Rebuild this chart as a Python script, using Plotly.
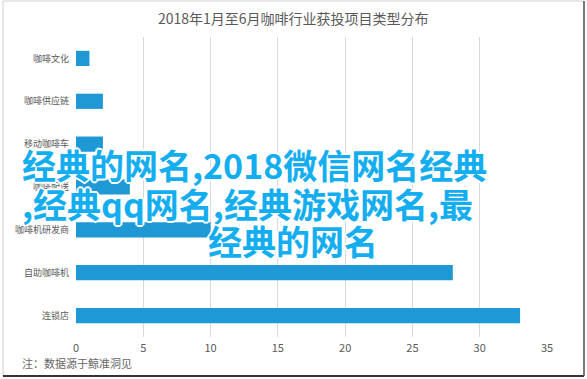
import plotly.graph_objects as go

title = "2018年1月至6月咖啡行业获投项目类型分布"
categories = ["咖啡文化", "咖啡供应链", "移动咖啡车", "咖啡配送", "咖啡机研发商", "自助咖啡机", "连锁店"]
values = [1, 2, 2, 4, 10, 28, 33]
x_ticks = [0, 5, 10, 15, 20, 25, 30, 35]
note = "注：数据源于鲸准洞见"
overlay_lines = ["经典的网名,2018微信网名经典", ",经典qq网名,经典游戏网名,最", "经典的网名"]

W, H = 587, 379
L, R, T, B = 76, 40, 37, 42

fig = go.Figure(go.Bar(
    x=values, y=categories, orientation="h",
    marker=dict(color="#1f99d5", line=dict(width=0)),
    hoverinfo="skip",
))

fig.update_layout(
    width=W, height=H,
    margin=dict(l=L, r=R, t=T, b=B),
    paper_bgcolor="white", plot_bgcolor="white",
    bargap=0.645,
    showlegend=False,
    font=dict(family="Noto Sans CJK SC, Noto Sans, sans-serif", color="#595959"),
)
fig.update_xaxes(
    range=[0, 35], tickvals=x_ticks, showgrid=True, gridcolor="#d9d9d9", gridwidth=1,
    zeroline=False, showline=False, ticks="", tickfont=dict(size=11, color="#595959"),
    ticklabelstandoff=3,
)
fig.update_yaxes(
    categoryorder="array", categoryarray=categories, autorange="reversed",
    showgrid=False, zeroline=False, showline=False, ticks="",
    tickfont=dict(size=9, color="#595959"), ticklabelstandoff=6,
)

ann = []
ann.append(dict(text=title, xref="paper", yref="paper", x=(293.5 - L) / (W - L - R),
                y=1 + (T - 18) / (H - T - B), xanchor="center", yanchor="middle",
                showarrow=False, font=dict(size=14, color="#595959")))
ann.append(dict(text=note, xref="paper", yref="paper", x=(20 - L) / (W - L - R),
                y=-(363 - (H - B)) / (H - T - B), xanchor="left", yanchor="middle",
                showarrow=False, font=dict(size=11, color="#666666")))

shadow = "1px 1px 0 #fff, -1px -1px 0 #fff, 1px -1px 0 #fff, -1px 1px 0 #fff, 0 2px 0 #fff, 0 -2px 0 #fff, 2px 0 0 #fff, -2px 0 0 #fff"
line_pos = [(20, 164), (20, 203), (206, 240)]
for txt, (px, py) in zip(overlay_lines, line_pos):
    ann.append(dict(text=txt, xref="paper", yref="paper",
                    x=(px - L) / (W - L - R), y=1 - (py - T) / (H - T - B),
                    xanchor="left", yanchor="middle", showarrow=False,
                    font=dict(size=34, color="#14aef0", family="Noto Sans CJK SC", weight="bold",
                              shadow=shadow)))
fig.update_layout(annotations=ann)

# frame
fig.add_shape(type="rect", xref="paper", yref="paper",
              x0=-(L - 3) / (W - L - R), x1=1 + (R - 3) / (W - L - R),
              y0=-(B - 3) / (H - T - B), y1=1 + (T - 1) / (H - T - B),
              line=dict(color="#d0d0d0", width=1), layer="below")
fig.add_shape(type="line", xref="paper", yref="paper",
              x0=-(L - 3) / (W - L - R), x1=1 + (R - 3) / (W - L - R),
              y0=-(B - 3) / (H - T - B), y1=-(B - 3) / (H - T - B),
              line=dict(color="#333333", width=2))
fig.add_shape(type="line", xref="paper", yref="paper",
              x0=1 + (R - 3) / (W - L - R), x1=1 + (R - 3) / (W - L - R),
              y0=-(B - 3) / (H - T - B), y1=1 + (T - 1) / (H - T - B),
              line=dict(color="#555555", width=1.5))

fig.write_html("out.html")
